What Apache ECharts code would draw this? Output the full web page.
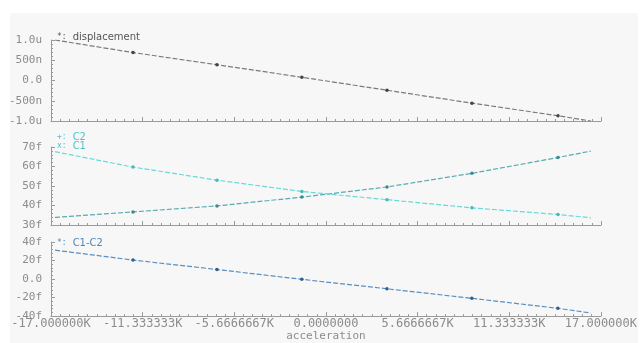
<!DOCTYPE html>
<html>
<head>
<meta charset="utf-8">
<script src="https://cdn.jsdelivr.net/npm/echarts@6/dist/echarts.min.js"></script>
<style>
  html, body { margin: 0; padding: 0; background: #ffffff; }
  #chart { width: 640px; height: 343px; }
</style>
</head>
<body>
<div id="chart"></div>
<script>
// Sweep variable (acceleration) at the sampled / marked points
var acceleration = [-16750, -11930, -6740, -1490, 3770, 9020, 14340, 16370];

// Proof-mass displacement, in micro-units
var displacement = [1.0, 0.69, 0.39, 0.08, -0.24, -0.56, -0.87, -1.0];

// Sense capacitances, in femto-farads
var c2 = [33.9, 36.7, 39.8, 44.3, 49.5, 56.5, 64.6, 67.9];
var c1 = [67.6, 59.7, 53.0, 47.2, 43.0, 38.8, 35.4, 33.7];

// Differential capacitance C1-C2, in femto-farads
var c1MinusC2 = [31.2, 20.5, 10.3, -0.3, -10.5, -20.8, -31.6, -36.7];

// Tick values and their printed labels
var xTicks = [-17000, -11333.333, -5666.6667, 0, 5666.6667, 11333.333, 17000];
var xTickLabels = ['-17.000000K', '-11.333333K', '-5.6666667K', '0.0000000', '5.6666667K', '11.333333K', '17.000000K'];
var dispTicks = [-1, -0.5, 0, 0.5, 1];
var dispTickLabels = ['-1.0u', '-500n', '0.0', '500n', '1.0u'];
var capTicks = [30, 40, 50, 60, 70];
var capTickLabels = ['30f', '40f', '50f', '60f', '70f'];
var diffTicks = [-40, -20, 0, 20, 40];
var diffTickLabels = ['-40f', '-20f', '0.0', '20f', '40f'];

function nearestLabel(ticks, labels) {
  return function (v) {
    var best = 0;
    for (var i = 1; i < ticks.length; i++) {
      if (Math.abs(ticks[i] - v) < Math.abs(ticks[best] - v)) best = i;
    }
    return labels[best];
  };
}

function pairs(ys) {
  return acceleration.map(function (x, i) {
    var item = { value: [x, ys[i]] };
    // end points of the sweep carry no marker
    if (i === 0 || i === acceleration.length - 1) item.symbol = 'none';
    return item;
  });
}

var monoFont = '"DejaVu Sans Mono", monospace';
var labelGray = '#8c8c8c';
var axisGray = '#9a9a9a';

var grids = [
  { left: 51, right: 39, top: 40, height: 81 },
  { left: 51, right: 39, top: 147, height: 78 },
  { left: 51, right: 39, top: 242, height: 84 }
];

function xAxisFor(gi, showLabels) {
  return {
    type: 'value', gridIndex: gi,
    min: -17000, max: 17000, interval: 17000 / 3,
    axisLine: { show: true, onZero: false, lineStyle: { color: axisGray, width: 1 } },
    axisTick: { show: true, inside: true, length: 4, lineStyle: { color: axisGray } },
    minorTick: { show: true, splitNumber: 10, length: 2, lineStyle: { color: axisGray } },
    splitLine: { show: false },
    axisLabel: {
      show: showLabels, margin: 2,
      fontFamily: monoFont, fontSize: 12, color: labelGray,
      formatter: nearestLabel(xTicks, xTickLabels)
    },
    name: showLabels ? 'acceleration' : '',
    nameLocation: 'middle', nameGap: 14,
    nameTextStyle: { fontFamily: monoFont, fontSize: 11, color: labelGray }
  };
}

function yAxisFor(gi, min, max, interval, ticks, labels) {
  return {
    type: 'value', gridIndex: gi,
    min: min, max: max, interval: interval,
    axisLine: { show: true, onZero: false, lineStyle: { color: axisGray, width: 1 } },
    axisTick: { show: true, inside: true, length: 4, lineStyle: { color: axisGray } },
    minorTick: { show: true, splitNumber: 5, length: 2, lineStyle: { color: axisGray } },
    splitLine: { show: false },
    axisLabel: {
      margin: 9, fontFamily: monoFont, fontSize: 11, color: labelGray,
      formatter: nearestLabel(ticks, labels)
    }
  };
}

function lineSeries(name, gi, ys, color, markColor) {
  return {
    name: name, type: 'line', xAxisIndex: gi, yAxisIndex: gi,
    data: pairs(ys),
    symbol: 'circle', symbolSize: 3.5, showSymbol: true,
    itemStyle: { color: markColor },
    lineStyle: { color: color, width: 1.2, type: [5, 2] },
    animation: false
  };
}

function legendRich(color) {
  return {
    fontFamily: '"DejaVu Sans", sans-serif', fontSize: 10, color: color,
    rich: {
      p: { fontFamily: monoFont, fontSize: 8, color: color, padding: [0, 6, 0, 0] },
      n: { fontFamily: '"DejaVu Sans", sans-serif', fontSize: 10, color: color }
    }
  };
}

var chart = echarts.init(document.getElementById('chart'), null, { renderer: 'canvas' });

chart.setOption({
  backgroundColor: '#ffffff',
  animation: false,
  graphic: [{
    type: 'rect', z: -10, silent: true,
    shape: { x: 10, y: 13, width: 628, height: 330 },
    style: { fill: '#f7f7f7' }
  }],
  grid: grids,
  xAxis: [xAxisFor(0, false), xAxisFor(1, false), xAxisFor(2, true)],
  yAxis: [
    yAxisFor(0, -1, 1, 0.5, dispTicks, dispTickLabels),
    yAxisFor(1, 30, 70, 10, capTicks, capTickLabels),
    yAxisFor(2, -40, 40, 20, diffTicks, diffTickLabels)
  ],
  legend: [
    {
      data: ['displacement'], left: 52, top: 30, icon: 'none',
      itemWidth: 0, itemGap: 0, padding: 0,
      formatter: function (n) { return '{p|*:}{n|' + n + '}'; },
      textStyle: legendRich('#555555')
    },
    {
      data: ['C2', 'C1'], left: 52, top: 130, orient: 'vertical', icon: 'none',
      itemWidth: 0, itemGap: -3, padding: 0,
      formatter: function (n) { return '{p|' + (n === 'C2' ? '+:' : 'x:') + '}{n|' + n + '}'; },
      textStyle: legendRich('#4fc4c8')
    },
    {
      data: ['C1-C2'], left: 52, top: 236, icon: 'none',
      itemWidth: 0, itemGap: 0, padding: 0,
      formatter: function (n) { return '{p|*:}{n|' + n + '}'; },
      textStyle: legendRich('#4f88b8')
    }
  ],
  series: [
    lineSeries('displacement', 0, displacement, '#7a7a7a', '#444444'),
    lineSeries('C2', 1, c2, '#5aaab0', '#3a8a90'),
    lineSeries('C1', 1, c1, '#66dada', '#3fbcbc'),
    lineSeries('C1-C2', 2, c1MinusC2, '#5a8fc0', '#2f5f8a')
  ]
});
</script>
</body>
</html>
